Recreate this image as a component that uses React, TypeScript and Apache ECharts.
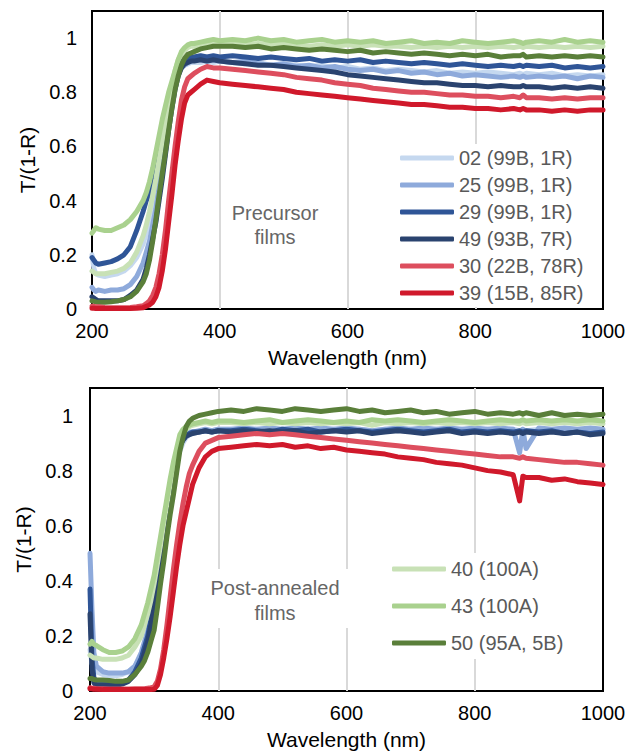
import React, { useEffect, useRef } from 'react';
import * as echarts from 'echarts';

// Wavelength samples (nm), shared by every series
const WAVELENGTH = [
  200, 203, 206, 210, 220, 230, 240, 250, 260, 270, 280,
  285, 290, 295, 300, 305, 310, 315, 320, 325, 330, 335, 340, 345, 350, 355, 360,
  370, 380, 390, 400,
  420, 440, 460, 480, 500, 520, 540, 560, 580, 600, 620, 640, 660, 680, 700, 720, 740, 760, 780, 800, 820, 840, 860,
  870, 875, 880,
  900, 920, 940, 960, 980, 1000,
];

const NAMES = ['02 (99B, 1R)', '25 (99B, 1R)', '29 (99B, 1R)', '49 (93B, 7R)', '40 (100A)', '43 (100A)', '50 (95A, 5B)', '30 (22B, 78R)', '39 (15B, 85R)'];
const COLORS = ['#c5d8ef', '#8eaadb', '#2f5597', '#2a436f', '#c8e1b6', '#a9d18e', '#5a7f3a', '#dd4e5e', '#d0192b'];
const TOP_LEGEND = ['02 (99B, 1R)', '25 (99B, 1R)', '29 (99B, 1R)', '49 (93B, 7R)', '30 (22B, 78R)', '39 (15B, 85R)'];
const BOTTOM_LEGEND = ['40 (100A)', '43 (100A)', '50 (95A, 5B)'];
const X_TICKS = [200, 400, 600, 800, 1000];

// Precursor films
const T02 = [
  0.20, 0.15, 0.13, 0.125, 0.12, 0.125, 0.13, 0.14, 0.16, 0.19, 0.24,
  0.28, 0.32, 0.37, 0.43, 0.50, 0.57, 0.65, 0.73, 0.80, 0.85, 0.88, 0.895, 0.90, 0.905, 0.91, 0.91,
  0.91, 0.915, 0.91, 0.915,
  0.91, 0.905, 0.91, 0.90, 0.905, 0.90, 0.895, 0.90, 0.89, 0.895, 0.885, 0.89, 0.88, 0.885, 0.88, 0.875, 0.88, 0.87, 0.875, 0.87, 0.875, 0.87, 0.865,
  0.87, 0.865, 0.87,
  0.865, 0.87, 0.86, 0.865, 0.86, 0.865,
];
const T25 = [
  0.08, 0.07, 0.065, 0.07, 0.065, 0.07, 0.07, 0.075, 0.09, 0.12, 0.17,
  0.21, 0.25, 0.31, 0.37, 0.45, 0.53, 0.62, 0.70, 0.77, 0.83, 0.87, 0.89, 0.90, 0.91, 0.915, 0.92,
  0.92, 0.915, 0.92, 0.915,
  0.91, 0.915, 0.905, 0.90, 0.905, 0.895, 0.90, 0.89, 0.895, 0.885, 0.88, 0.885, 0.875, 0.88, 0.87, 0.875, 0.865, 0.87, 0.86, 0.865, 0.86, 0.855, 0.86,
  0.855, 0.86, 0.855,
  0.86, 0.855, 0.86, 0.85, 0.86, 0.855,
];
const T29 = [
  0.19, 0.18, 0.17, 0.165, 0.17, 0.175, 0.185, 0.20, 0.23, 0.29, 0.36,
  0.40, 0.43, 0.47, 0.51, 0.57, 0.64, 0.71, 0.78, 0.83, 0.87, 0.895, 0.91, 0.92, 0.925, 0.93, 0.93,
  0.935, 0.93, 0.935, 0.93,
  0.935, 0.93, 0.925, 0.93, 0.925, 0.92, 0.925, 0.915, 0.92, 0.915, 0.92, 0.91, 0.915, 0.91, 0.905, 0.91, 0.905, 0.90, 0.905, 0.90, 0.895, 0.90, 0.895,
  0.90, 0.895, 0.90,
  0.895, 0.90, 0.89, 0.895, 0.89, 0.895,
];
const T49 = [
  0.045, 0.04, 0.035, 0.03, 0.03, 0.03, 0.03, 0.035, 0.05, 0.07, 0.11,
  0.15, 0.20, 0.26, 0.32, 0.40, 0.48, 0.57, 0.66, 0.74, 0.81, 0.86, 0.89, 0.905, 0.91, 0.915, 0.915,
  0.92, 0.915, 0.92, 0.915,
  0.91, 0.905, 0.90, 0.90, 0.895, 0.89, 0.885, 0.88, 0.875, 0.865, 0.86, 0.855, 0.85, 0.845, 0.84, 0.835, 0.835, 0.83, 0.825, 0.825, 0.82, 0.825, 0.82,
  0.82, 0.825, 0.82,
  0.82, 0.815, 0.82, 0.815, 0.82, 0.815,
];
const T30 = [
  0.01, 0.01, 0.008, 0.008, 0.006, 0.005, 0.005, 0.005, 0.006, 0.008, 0.012,
  0.02, 0.03, 0.05, 0.08, 0.13, 0.20, 0.29, 0.40, 0.50, 0.60, 0.69, 0.77, 0.82, 0.85, 0.86, 0.87,
  0.885, 0.895, 0.89, 0.89,
  0.885, 0.88, 0.875, 0.87, 0.865, 0.855, 0.85, 0.845, 0.835, 0.83, 0.825, 0.815, 0.81, 0.805, 0.80, 0.80, 0.795, 0.79, 0.79, 0.785, 0.785, 0.78, 0.785,
  0.78, 0.79, 0.78,
  0.78, 0.775, 0.78, 0.775, 0.78, 0.78,
];
const T39 = [
  0.003, 0.003, 0.002, 0.002, 0.002, 0.002, 0.002, 0.002, 0.002, 0.003, 0.005,
  0.01, 0.015, 0.025, 0.045, 0.08, 0.14, 0.22, 0.32, 0.42, 0.53, 0.62, 0.70, 0.76, 0.79, 0.80, 0.81,
  0.83, 0.845, 0.84, 0.835,
  0.83, 0.825, 0.82, 0.815, 0.81, 0.80, 0.795, 0.79, 0.785, 0.78, 0.775, 0.77, 0.765, 0.76, 0.755, 0.755, 0.75, 0.745, 0.745, 0.74, 0.74, 0.735, 0.74,
  0.735, 0.74, 0.735,
  0.735, 0.73, 0.735, 0.73, 0.735, 0.735,
];
const T40 = [
  0.14, 0.135, 0.13, 0.13, 0.13, 0.135, 0.14, 0.15, 0.17, 0.21, 0.27,
  0.31, 0.36, 0.42, 0.48, 0.55, 0.62, 0.69, 0.76, 0.82, 0.88, 0.92, 0.94, 0.955, 0.965, 0.97, 0.97,
  0.975, 0.98, 0.975, 0.98,
  0.98, 0.975, 0.98, 0.975, 0.98, 0.975, 0.97, 0.975, 0.97, 0.975, 0.97, 0.975, 0.97, 0.97, 0.965, 0.97, 0.965, 0.97, 0.965, 0.97, 0.965, 0.97, 0.965,
  0.97, 0.965, 0.97,
  0.965, 0.97, 0.965, 0.97, 0.965, 0.97,
];
const T43 = [
  0.28, 0.29, 0.30, 0.295, 0.29, 0.29, 0.30, 0.31, 0.33, 0.36, 0.40,
  0.43, 0.47, 0.52, 0.58, 0.64, 0.70, 0.75, 0.80, 0.84, 0.88, 0.92, 0.95, 0.965, 0.975, 0.98, 0.98,
  0.985, 0.99, 0.995, 0.99,
  0.995, 0.99, 1.0, 0.99, 0.995, 0.985, 0.99, 0.995, 0.985, 0.99, 0.985, 0.99, 0.98, 0.985, 0.99, 0.98, 0.985, 0.98, 0.99, 0.985, 0.98, 0.985, 0.99,
  0.985, 0.98, 0.985,
  0.99, 0.985, 0.995, 0.985, 0.99, 0.985,
];
const T50 = [
  0.03, 0.028, 0.026, 0.025, 0.025, 0.027, 0.03, 0.035, 0.045, 0.065, 0.10,
  0.13, 0.18, 0.25, 0.33, 0.42, 0.50, 0.58, 0.66, 0.74, 0.81, 0.86, 0.90, 0.925, 0.94, 0.945, 0.95,
  0.96, 0.965, 0.97, 0.97,
  0.97, 0.965, 0.97, 0.96, 0.965, 0.96, 0.955, 0.96, 0.955, 0.95, 0.955, 0.945, 0.95, 0.945, 0.94, 0.945, 0.94, 0.935, 0.94, 0.935, 0.94, 0.93, 0.935,
  0.935, 0.94, 0.93,
  0.935, 0.93, 0.935, 0.93, 0.935, 0.93,
];

// Post-annealed films
const B02 = [
  0.15, 0.10, 0.08, 0.07, 0.06, 0.055, 0.055, 0.06, 0.07, 0.09, 0.13,
  0.16, 0.20, 0.25, 0.31, 0.38, 0.46, 0.54, 0.62, 0.70, 0.77, 0.83, 0.87, 0.90, 0.92, 0.93, 0.935,
  0.94, 0.945, 0.945, 0.95,
  0.95, 0.945, 0.95, 0.945, 0.95, 0.955, 0.95, 0.945, 0.95, 0.945, 0.95, 0.945, 0.95, 0.945, 0.95, 0.945, 0.95, 0.945, 0.95, 0.945, 0.95, 0.945, 0.95,
  0.945, 0.95, 0.945,
  0.95, 0.945, 0.95, 0.945, 0.95, 0.945,
];
const B25 = [
  0.50, 0.30, 0.14, 0.09, 0.07, 0.065, 0.065, 0.065, 0.07, 0.09, 0.14,
  0.18, 0.22, 0.28, 0.34, 0.42, 0.50, 0.58, 0.66, 0.73, 0.80, 0.85, 0.89, 0.91, 0.93, 0.94, 0.94,
  0.945, 0.95, 0.945, 0.95,
  0.95, 0.955, 0.95, 0.955, 0.95, 0.955, 0.95, 0.955, 0.95, 0.955, 0.95, 0.945, 0.95, 0.955, 0.95, 0.955, 0.95, 0.955, 0.95, 0.955, 0.95, 0.955, 0.95,
  0.865, 0.95, 0.88,
  0.955, 0.95, 0.955, 0.95, 0.955, 0.95,
];
const B29 = [
  0.37, 0.12, 0.05, 0.03, 0.025, 0.025, 0.025, 0.03, 0.04, 0.07, 0.12,
  0.16, 0.20, 0.26, 0.33, 0.42, 0.52, 0.60, 0.68, 0.75, 0.80, 0.85, 0.89, 0.915, 0.93, 0.935, 0.94,
  0.94, 0.945, 0.94, 0.945,
  0.945, 0.95, 0.945, 0.94, 0.95, 0.945, 0.95, 0.94, 0.945, 0.95, 0.945, 0.94, 0.945, 0.95, 0.945, 0.94, 0.945, 0.95, 0.94, 0.945, 0.94, 0.945, 0.94,
  0.945, 0.94, 0.945,
  0.94, 0.945, 0.935, 0.94, 0.935, 0.94,
];
const B49 = [
  0.28, 0.08, 0.03, 0.02, 0.02, 0.02, 0.02, 0.025, 0.035, 0.06, 0.10,
  0.14, 0.18, 0.24, 0.31, 0.40, 0.50, 0.59, 0.67, 0.74, 0.80, 0.85, 0.89, 0.91, 0.925, 0.93, 0.935,
  0.94, 0.945, 0.94, 0.945,
  0.94, 0.945, 0.94, 0.945, 0.94, 0.945, 0.935, 0.94, 0.945, 0.94, 0.945, 0.935, 0.94, 0.945, 0.94, 0.935, 0.94, 0.945, 0.935, 0.94, 0.935, 0.94, 0.935,
  0.94, 0.935, 0.94,
  0.935, 0.94, 0.935, 0.94, 0.93, 0.935,
];
const B30 = [
  0.012, 0.01, 0.01, 0.008, 0.008, 0.007, 0.007, 0.007, 0.007, 0.008, 0.008,
  0.008, 0.01, 0.012, 0.015, 0.035, 0.08, 0.15, 0.24, 0.34, 0.44, 0.53, 0.61, 0.68, 0.74, 0.79, 0.82,
  0.87, 0.90, 0.91, 0.92,
  0.925, 0.93, 0.935, 0.93, 0.935, 0.93, 0.925, 0.92, 0.915, 0.91, 0.905, 0.90, 0.895, 0.89, 0.885, 0.88, 0.875, 0.87, 0.865, 0.86, 0.855, 0.85, 0.85,
  0.845, 0.85, 0.845,
  0.84, 0.835, 0.83, 0.83, 0.825, 0.82,
];
const B39 = [
  0.008, 0.008, 0.006, 0.006, 0.005, 0.005, 0.005, 0.005, 0.005, 0.005, 0.005,
  0.005, 0.005, 0.005, 0.006, 0.02, 0.06, 0.12, 0.19, 0.27, 0.36, 0.45, 0.53, 0.60, 0.65, 0.70, 0.75,
  0.81, 0.85, 0.87, 0.88,
  0.885, 0.89, 0.895, 0.89, 0.895, 0.885, 0.89, 0.88, 0.885, 0.875, 0.87, 0.865, 0.86, 0.85, 0.845, 0.84, 0.83, 0.825, 0.82, 0.81, 0.80, 0.795, 0.785,
  0.69, 0.78, 0.775,
  0.775, 0.765, 0.77, 0.76, 0.755, 0.75,
];
const B40 = [
  0.13, 0.125, 0.12, 0.12, 0.115, 0.115, 0.115, 0.12, 0.13, 0.16, 0.20,
  0.24, 0.28, 0.33, 0.39, 0.46, 0.53, 0.61, 0.68, 0.75, 0.82, 0.87, 0.91, 0.935, 0.95, 0.96, 0.965,
  0.97, 0.975, 0.97, 0.975,
  0.975, 0.97, 0.975, 0.97, 0.975, 0.97, 0.975, 0.97, 0.975, 0.97, 0.975, 0.965, 0.975, 0.97, 0.975, 0.97, 0.975, 0.97, 0.975, 0.97, 0.975, 0.97, 0.975,
  0.97, 0.975, 0.97,
  0.975, 0.97, 0.975, 0.97, 0.975, 0.97,
];
const B43 = [
  0.17, 0.18, 0.17, 0.165, 0.15, 0.14, 0.14, 0.145, 0.16, 0.19, 0.24,
  0.28, 0.32, 0.37, 0.42, 0.49, 0.56, 0.63, 0.70, 0.77, 0.83, 0.88, 0.93, 0.95, 0.96, 0.965, 0.97,
  0.975, 0.98, 0.975, 0.98,
  0.98, 0.975, 0.98, 0.985, 0.975, 0.98, 0.985, 0.98, 0.975, 0.98, 0.975, 0.985, 0.98, 0.985, 0.98, 0.975, 0.98, 0.985, 0.98, 0.975, 0.98, 0.985, 0.98,
  0.98, 0.985, 0.98,
  0.985, 0.98, 0.985, 0.98, 0.985, 0.98,
];
const B50 = [
  0.045, 0.045, 0.042, 0.04, 0.04, 0.038, 0.035, 0.035, 0.04, 0.06, 0.09,
  0.11, 0.14, 0.18, 0.22, 0.30, 0.39, 0.47, 0.56, 0.64, 0.71, 0.79, 0.87, 0.92, 0.96, 0.98, 0.99,
  1.0, 1.005, 1.01, 1.015,
  1.02, 1.015, 1.025, 1.02, 1.015, 1.025, 1.02, 1.015, 1.02, 1.025, 1.015, 1.02, 1.01, 1.015, 1.02, 1.01, 1.015, 1.005, 1.01, 1.015, 1.005, 1.01, 1.005,
  1.01, 1.005, 1.01,
  1.0, 1.01, 1.0, 1.005, 1.0, 1.005,
];

const TOP_SERIES = [T02, T25, T29, T49, T40, T43, T50, T30, T39];
const BOTTOM_SERIES = [B02, B25, B29, B49, B40, B43, B50, B30, B39];

const FONT = '"Liberation Sans", Arial, sans-serif';

function makeAxes(gridIndex: number, labelMargin: number) {
  const xAxis = {
    type: 'value',
    gridIndex,
    min: 200,
    max: 1000,
    interval: 200,
    name: 'Wavelength (nm)',
    nameLocation: 'middle',
    nameGap: 38,
    nameTextStyle: { fontSize: 21, color: '#000', fontFamily: FONT },
    axisLine: { show: false },
    axisTick: { show: false },
    axisLabel: {
      fontSize: 20,
      color: '#000',
      fontFamily: FONT,
      margin: 12,
      formatter: (v: number) => (X_TICKS.includes(v) ? String(v) : ''),
    },
    splitLine: { show: true, showMinLine: false, showMaxLine: false, lineStyle: { color: '#d9d9d9', width: 2 } },
  };
  const yAxis = {
    type: 'value',
    gridIndex,
    min: 0,
    max: 1.1,
    interval: 0.2,
    name: 'T/(1-R)',
    nameLocation: 'middle',
    nameGap: 50,
    nameTextStyle: { fontSize: 21, color: '#000', fontFamily: FONT },
    axisLine: { show: false },
    axisTick: { show: false },
    axisLabel: {
      fontSize: 20,
      color: '#000',
      fontFamily: FONT,
      margin: labelMargin,
      showMaxLabel: false,
      formatter: (v: number) => (v > 1.05 ? '' : String(Math.round(v * 10) / 10)),
    },
    splitLine: { show: false },
  };
  return { xAxis, yAxis };
}

export default function App() {
  const ref = useRef<HTMLDivElement>(null);

  useEffect(() => {
    if (!ref.current) return;
    const chart = echarts.init(ref.current, undefined, { renderer: 'svg' });

    const a0 = makeAxes(0, 15);
    const a1 = makeAxes(1, 17);

    const series: any[] = [];
    [TOP_SERIES, BOTTOM_SERIES].forEach((group, gi) => {
      group.forEach((vals, i) => {
        series.push({
          type: 'line',
          name: NAMES[i],
          xAxisIndex: gi,
          yAxisIndex: gi,
          symbol: 'none',
          showSymbol: false,
          data: WAVELENGTH.map((w, k) => [w, vals[k]]),
          lineStyle: { color: COLORS[i], width: 5, join: 'round', cap: 'round' },
          itemStyle: { color: COLORS[i] },
          z: 3,
        });
      });
    });

    const legendCommon = {
      orient: 'vertical',
      selectedMode: false,
      icon: 'roundRect',
      itemWidth: 54,
      itemHeight: 5,
      backgroundColor: '#ffffff',
      textStyle: { fontSize: 20, color: '#595959', fontFamily: FONT, lineHeight: 20 },
      itemStyle: { borderWidth: 0 },
      z: 10,
    };

    chart.setOption({
      animation: false,
      backgroundColor: '#ffffff',
      grid: [
        { left: 92, top: 11, width: 511, height: 298, show: true, borderColor: '#000', borderWidth: 2, backgroundColor: 'transparent' },
        { left: 90, top: 388, width: 513, height: 303, show: true, borderColor: '#000', borderWidth: 2, backgroundColor: 'transparent' },
      ],
      xAxis: [a0.xAxis, a1.xAxis],
      yAxis: [a0.yAxis, a1.yAxis],
      legend: [
        { ...legendCommon, data: TOP_LEGEND, left: 396, top: 144, itemGap: 7, padding: [4, 8, 4, 4] },
        { ...legendCommon, data: BOTTOM_LEGEND, left: 388, top: 553, itemGap: 17, padding: [6, 8, 6, 4] },
      ],
      graphic: [
        {
          type: 'text',
          z: 10,
          x: 275,
          y: 225,
          style: {
            text: 'Precursor\nfilms',
            fill: '#666666',
            font: '20px "Liberation Sans", Arial, sans-serif',
            align: 'center',
            verticalAlign: 'middle',
            lineHeight: 24,
          },
        },
        {
          type: 'rect',
          z: 9,
          shape: { x: 205, y: 569, width: 148, height: 59 },
          style: { fill: '#ffffff' },
        },
        {
          type: 'text',
          z: 10,
          x: 275,
          y: 600,
          style: {
            text: 'Post-annealed\nfilms',
            fill: '#666666',
            font: '20px "Liberation Sans", Arial, sans-serif',
            align: 'center',
            verticalAlign: 'middle',
            lineHeight: 25,
          },
        },
      ],
      series,
    });

    return () => chart.dispose();
  }, []);

  return <div ref={ref} style={{ position: 'fixed', left: 0, top: 0, width: 638, height: 753 }} />;
}
